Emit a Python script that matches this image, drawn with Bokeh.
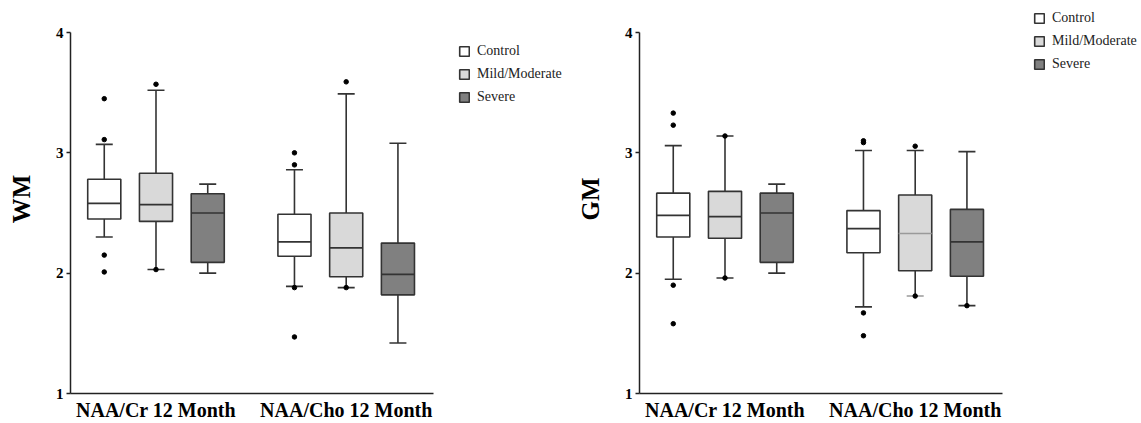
from bokeh.plotting import figure
from bokeh.models import ColumnDataSource, Range1d, FixedTicker, Legend, LegendItem
from bokeh.layouts import row
from bokeh.embed import file_html
from bokeh.resources import INLINE

# ---------------- data ----------------
categories = ["NAA/Cr 12 Month", "NAA/Cho 12 Month"]
groups = ["Control", "Mild/Moderate", "Severe"]
y_ticks = [1, 2, 3, 4]

# rows: Control, Mild/Moderate, Severe ; columns: categories
wm_lower = [[2.30, 1.89], [2.03, 1.88], [2.00, 1.42]]
wm_q1 = [[2.45, 2.14], [2.43, 1.97], [2.09, 1.82]]
wm_median = [[2.58, 2.26], [2.57, 2.21], [2.50, 1.99]]
wm_q3 = [[2.78, 2.49], [2.83, 2.50], [2.66, 2.25]]
wm_upper = [[3.07, 2.86], [3.52, 3.49], [2.74, 3.08]]
wm_outliers = [
    [[3.45, 3.11, 2.15, 2.01], [3.00, 2.90, 1.88, 1.47]],
    [[3.57, 2.03], [3.59, 1.88]],
    [[], []],
]

gm_lower = [[1.95, 1.72], [1.96, 1.81], [2.00, 1.73]]
gm_q1 = [[2.30, 2.17], [2.29, 2.02], [2.09, 1.975]]
gm_median = [[2.48, 2.37], [2.47, 2.33], [2.50, 2.26]]
gm_q3 = [[2.665, 2.52], [2.68, 2.65], [2.665, 2.53]]
gm_upper = [[3.06, 3.02], [3.14, 3.02], [2.74, 3.01]]
gm_outliers = [
    [[3.33, 3.23, 1.90, 1.58], [3.10, 3.085, 1.67, 1.48]],
    [[3.14, 1.96], [3.055, 1.81]],
    [[], [1.73]],
]

# ---------------- style / layout ----------------
FILLS = ["#ffffff", "#d9d9d9", "#808080"]
LINE = "#333333"
LIGHT = "#9a9a9a"
wm_median_colors = [[LINE, LINE], [LINE, LINE], [LINE, LINE]]
gm_median_colors = [[LINE, LINE], [LINE, LIGHT], [LINE, LINE]]
OFFSETS = [-0.272, 0.0, 0.272]
BOX_W = 0.174
CAP = 17
FONT = "Liberation Serif"

X0, X1 = 0.5505, 2.459      # data span covered by the drawn x axis
AXIS_PX = 363               # pixel length of the drawn x axis
Y0, Y1 = 1, 4
AXIS_PY = 361               # pixel height of the drawn y axis
TOP = 4                     # top border of each figure
FRAME_H = AXIS_PY + 28
FRAME_W = 502


def make_chart(ylabel, lower, q1, median, q3, upper, outliers, med_colors,
               legend_loc, left_border):
    x_end = X0 + (X1 - X0) * FRAME_W / AXIS_PX
    y_end = Y0 + (Y1 - Y0) * FRAME_H / AXIS_PY
    p = figure(frame_width=FRAME_W, frame_height=FRAME_H,
               x_range=Range1d(X0, x_end), y_range=Range1d(Y0, y_end),
               output_backend="svg", toolbar_location=None,
               min_border_left=left_border, min_border_right=0,
               min_border_top=TOP, min_border_bottom=30)
    p.grid.visible = False
    p.outline_line_color = None

    items = []
    for g, name in enumerate(groups):
        xs = [c + 1 + OFFSETS[g] for c in range(len(categories))]
        src = ColumnDataSource(dict(
            x=xs,
            x0=[x - BOX_W / 2 for x in xs],
            x1=[x + BOX_W / 2 for x in xs],
            lower=lower[g], q1=q1[g], median=median[g], q3=q3[g], upper=upper[g],
            mc=med_colors[g],
        ))
        p.segment(x0="x", y0="q3", x1="x", y1="upper", source=src,
                  line_color=LINE, line_width=1.6)
        p.segment(x0="x", y0="q1", x1="x", y1="lower", source=src,
                  line_color=LINE, line_width=1.6)
        box = p.vbar(x="x", bottom="q1", top="q3", width=BOX_W, source=src,
                     fill_color=FILLS[g], line_color=LINE, line_width=1.6)
        p.segment(x0="x0", y0="median", x1="x1", y1="median", source=src,
                  line_color="mc", line_width=1.6)
        p.scatter(x="x", y="upper", marker="dash", size=CAP, source=src,
                  line_color=LINE, line_width=1.6)
        p.scatter(x="x", y="lower", marker="dash", size=CAP, source=src,
                  line_color="mc", line_width=1.6)
        ox, oy = [], []
        for c in range(len(categories)):
            for v in outliers[g][c]:
                ox.append(xs[c])
                oy.append(v)
        p.scatter(ox, oy, size=4.5, color="black")
        items.append(LegendItem(label=name, renderers=[box]))

    legend = Legend(items=items, location=legend_loc,
                    glyph_width=12, glyph_height=12, label_standoff=7,
                    spacing=7, padding=0, margin=0, label_height=16,
                    label_text_font=FONT, label_text_font_size="14px",
                    label_text_color="#222222",
                    border_line_color=None, background_fill_alpha=0)
    p.add_layout(legend)

    # y axis
    ya = p.yaxis[0]
    ya.bounds = (Y0, Y1)
    ya.ticker = FixedTicker(ticks=y_ticks)
    ya.major_tick_out = 4
    ya.major_tick_in = 0
    ya.minor_tick_out = 0
    ya.minor_tick_in = 0
    ya.major_label_standoff = 3
    ya.axis_line_width = 1.5
    ya.axis_line_color = "#222222"
    ya.major_tick_line_width = 1.5
    ya.major_tick_line_color = "#222222"
    ya.major_label_text_font = FONT
    ya.major_label_text_font_style = "bold"
    ya.major_label_text_font_size = "15px"
    ya.major_label_text_color = "black"
    ya.axis_label = ylabel
    ya.axis_label_text_font = FONT
    ya.axis_label_text_font_style = "bold"
    ya.axis_label_text_font_size = "25px"
    ya.axis_label_text_color = "black"
    ya.axis_label_standoff = 18

    # x axis
    xa = p.xaxis[0]
    xa.bounds = (X0, X1)
    xa.ticker = FixedTicker(ticks=[c + 1 for c in range(len(categories))])
    xa.major_label_overrides = {c + 1: name for c, name in enumerate(categories)}
    xa.major_tick_out = 0
    xa.major_tick_in = 0
    xa.minor_tick_out = 0
    xa.minor_tick_in = 0
    xa.major_label_standoff = 5
    xa.axis_line_width = 1.5
    xa.axis_line_color = "#222222"
    xa.major_label_text_font = FONT
    xa.major_label_text_font_style = "bold"
    xa.major_label_text_font_size = "20px"
    xa.major_label_text_color = "black"
    return p


p_wm = make_chart("WM", wm_lower, wm_q1, wm_median, wm_q3, wm_upper, wm_outliers,
                  wm_median_colors, (388, 288), 70)
p_gm = make_chart("GM", gm_lower, gm_q1, gm_median, gm_q3, gm_upper, gm_outliers,
                  gm_median_colors, (394, 321), 67)

layout = row(p_wm, p_gm)
open("out.html", "w").write(file_html(layout, INLINE))
